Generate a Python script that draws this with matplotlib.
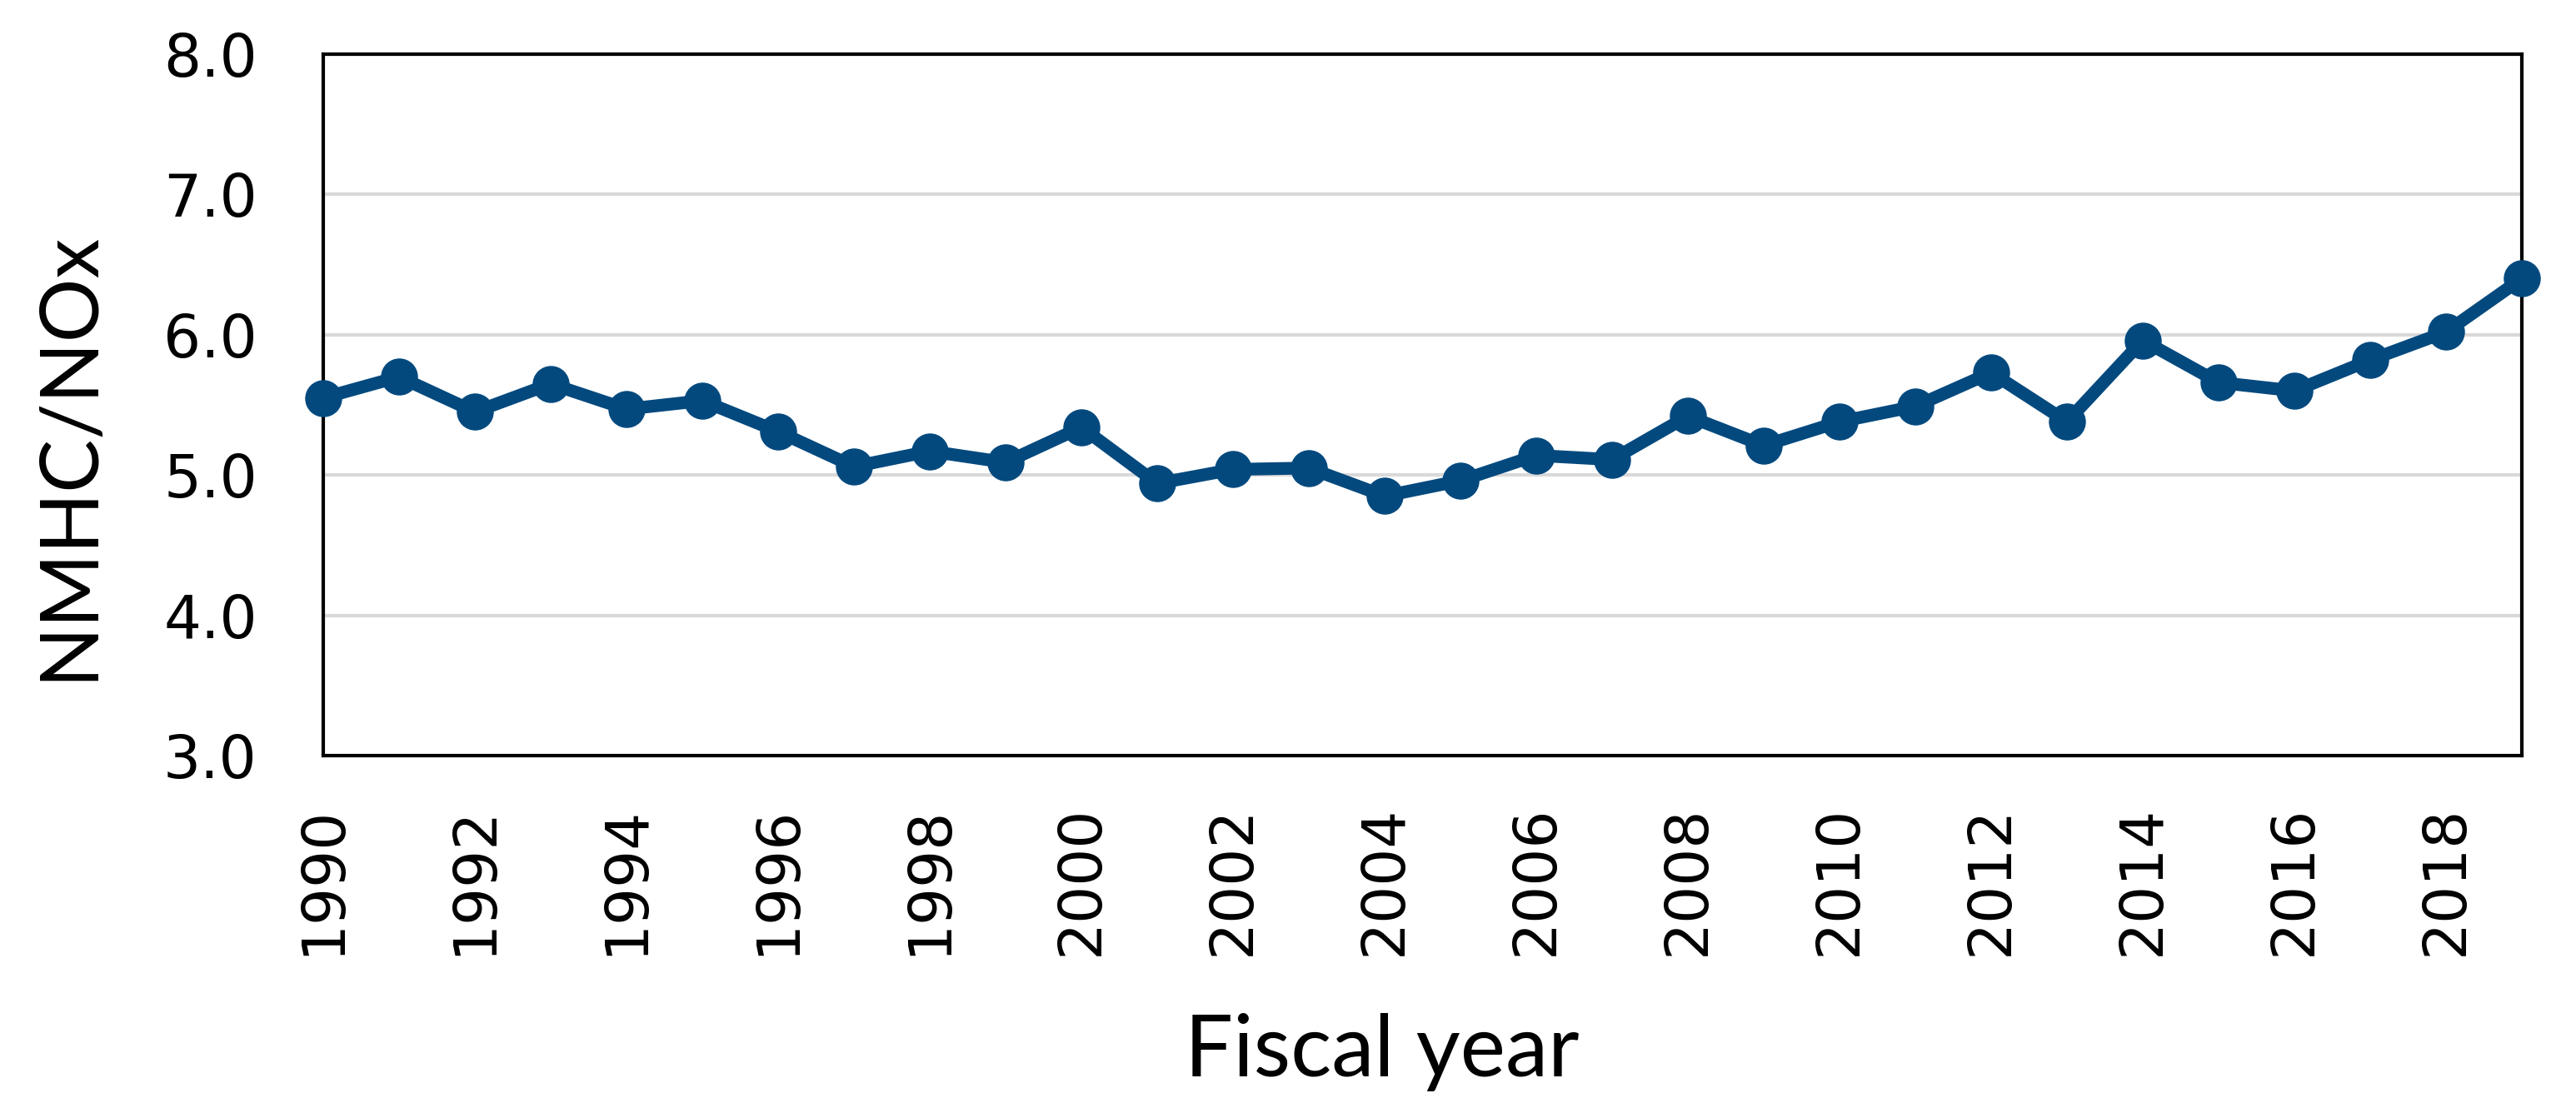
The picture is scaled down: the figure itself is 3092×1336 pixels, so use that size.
import numpy as np
import matplotlib
matplotlib.use("Agg")
import matplotlib.pyplot as plt

years = list(range(1990, 2020))
ratio = [5.55, 5.70, 5.45, 5.65, 5.47, 5.53, 5.31, 5.06, 5.17, 5.09,
         5.34, 4.94, 5.04, 5.05, 4.85, 4.96, 5.14, 5.11, 5.42, 5.21,
         5.38, 5.49, 5.73, 5.38, 5.96, 5.66, 5.60, 5.82, 6.02, 6.40]
xticks = list(range(1990, 2019, 2))
yticks = [3.0, 4.0, 5.0, 6.0, 7.0, 8.0]

line_color = '#03497E'

fig = plt.figure(figsize=(30.92, 13.36), dpi=100)
ax = fig.add_axes([388/3092, 1 - 907/1336, (3027-388)/3092, (907-65)/1336])

ax.plot(years, ratio, color=line_color, lw=11, marker='o', ms=31,
        clip_on=False, zorder=3)

ax.set_xlim(1990, 2019)
ax.set_ylim(3.0, 8.0)
ax.set_yticks(yticks)
ax.set_yticklabels([f"{v:.1f}" for v in yticks])
ax.set_xticks(xticks)
ax.set_xticklabels([str(y) for y in xticks], rotation=90)

ax.tick_params(axis='both', length=0, labelsize=51)
ax.tick_params(axis='y', pad=57)
ax.tick_params(axis='x', pad=43)

ax.yaxis.grid(True, color='#D9D9D9', lw=3)
ax.set_axisbelow(True)
for s in ax.spines.values():
    s.set_linewidth(3)
    s.set_color('black')

fig.text(83/3092, 1 - 547/1336, "NMHC/NOx", rotation=90, ha='center', va='center',
         fontsize=69, family='Lato')
fig.text(1659/3092, 1 - 1292/1336, "Fiscal year", ha='center', va='baseline',
         fontsize=74, family='Lato')

fig.savefig("out.png", dpi=100, facecolor='white')
